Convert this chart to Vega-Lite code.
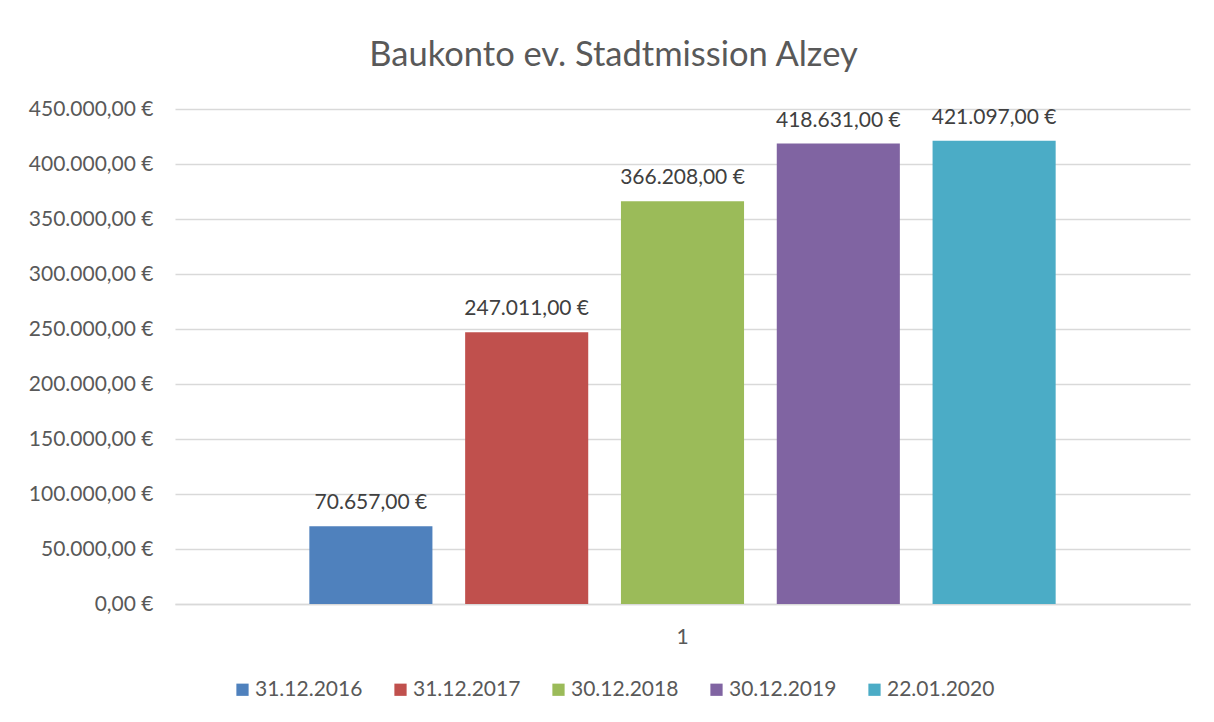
{
  "$schema": "https://vega.github.io/schema/vega-lite/v6.json",
  "width": 1015,
  "height": 495,
  "autosize": {"type": "none"},
  "padding": {"left": 175, "top": 109, "right": 24, "bottom": 118},
  "background": "white",
  "config": {
    "locale": {"number": {"decimal": ",", "thousands": ".", "grouping": [3], "currency": ["", " €"]}},
    "font": "Lato",
    "view": {"stroke": null},
    "axis": {"labelFont": "Lato", "labelColor": "#595959", "labelFontSize": 21}
  },
  "title": {
    "text": "Baukonto ev. Stadtmission Alzey",
    "frame": "group",
    "anchor": "middle",
    "dx": -69,
    "offset": -2,
    "baseline": "alphabetic",
    "fontSize": 34.5,
    "font": "Lato",
    "fontWeight": "normal",
    "color": "#595959"
  },
  "data": {
    "values": [
      {"grp": "1", "datum": "31.12.2016", "betrag": 70657},
      {"grp": "1", "datum": "31.12.2017", "betrag": 247011},
      {"grp": "1", "datum": "30.12.2018", "betrag": 366208},
      {"grp": "1", "datum": "30.12.2019", "betrag": 418631},
      {"grp": "1", "datum": "22.01.2020", "betrag": 421097}
    ]
  },
  "encoding": {
    "x": {
      "field": "grp", "type": "nominal", "title": null,
      "scale": {"paddingInner": 0, "paddingOuter": 0.18},
      "axis": {"labelAngle": 0, "ticks": false, "domain": true, "domainColor": "#d9d9d9", "domainWidth": 1.5, "labelPadding": 22, "grid": false}
    },
    "xOffset": {
      "field": "datum", "type": "nominal",
      "sort": ["31.12.2016", "31.12.2017", "30.12.2018", "30.12.2019", "22.01.2020"],
      "scale": {"paddingInner": 0.21, "paddingOuter": 0}
    },
    "y": {
      "field": "betrag", "type": "quantitative", "title": null,
      "scale": {"domain": [0, 450000], "nice": false},
      "axis": {"values": [0, 50000, 100000, 150000, 200000, 250000, 300000, 350000, 400000, 450000], "format": "$,.2f", "domain": false, "ticks": false, "gridColor": "#d9d9d9", "gridWidth": 1.5, "labelPadding": 22}
    }
  },
  "layer": [
    {
      "mark": {"type": "bar"},
      "encoding": {
        "color": {
          "field": "datum", "type": "nominal", "title": null,
          "sort": ["31.12.2016", "31.12.2017", "30.12.2018", "30.12.2019", "22.01.2020"],
          "scale": {"domain": ["31.12.2016", "31.12.2017", "30.12.2018", "30.12.2019", "22.01.2020"], "range": ["#4F81BD", "#C0504D", "#9BBB59", "#8064A2", "#4BACC6"]},
          "legend": {
            "orient": "none", "direction": "horizontal", "legendX": 57, "legendY": 570,
            "symbolType": "square", "symbolSize": 150, "symbolStrokeWidth": 0,
            "labelFontSize": 21, "labelColor": "#595959", "labelFont": "Lato", "labelOffset": 2,
            "columnPadding": 27, "padding": 0, "gridAlign": "all"
          }
        }
      }
    },
    {
      "mark": {"type": "text", "baseline": "alphabetic", "dy": -17, "fontSize": 21, "color": "#404040", "font": "Lato"},
      "encoding": {
        "text": {"field": "betrag", "type": "quantitative", "format": "$,.2f"}
      }
    }
  ]
}
